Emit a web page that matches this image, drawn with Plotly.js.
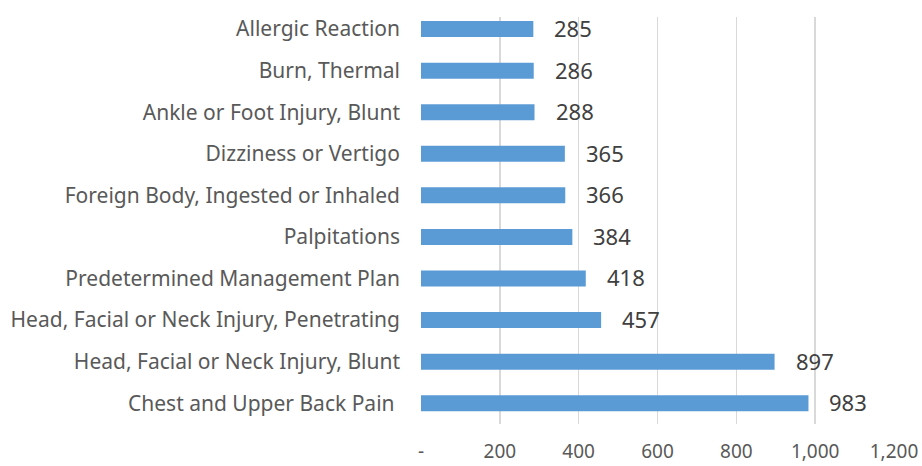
<!DOCTYPE html>
<html>
<head>
<meta charset="utf-8">
<script src="https://cdn.plot.ly/plotly-3.0.1.min.js"></script>
<style>html,body{margin:0;padding:0;background:#fff;}#chart{width:922px;height:466px;}</style>
</head>
<body>
<div id="chart"></div>
<script>
const categories = [
  "Chest and Upper Back Pain ",
  "Head, Facial or Neck Injury, Blunt",
  "Head, Facial or Neck Injury, Penetrating",
  "Predetermined Management Plan",
  "Palpitations",
  "Foreign Body, Ingested or Inhaled",
  "Dizziness or Vertigo",
  "Ankle or Foot Injury, Blunt",
  "Burn, Thermal",
  "Allergic Reaction"
];
const values = [983, 897, 457, 418, 384, 366, 365, 288, 286, 285];
const xTickVals = [0, 200, 400, 600, 800, 1000, 1200];
const xTickText = ["-", "200", "400", "600", "800", "1,000", "1,200"];

const font = "Noto Sans, Open Sans, sans-serif";

const trace = {
  type: "bar",
  orientation: "h",
  y: categories,
  x: values,
  marker: {color: "#5B9BD5"},
  hoverinfo: "x+y"
};

const annotations = values.map((v, i) => ({
  x: v, y: categories[i], xref: "x", yref: "y",
  text: String(v), showarrow: false, xanchor: "left", yanchor: "middle",
  xshift: 19, yshift: 1,
  font: {family: font, size: 22, color: "#404040"}
}));

const layout = {
  width: 922, height: 466,
  margin: {l: 421, r: 28, t: 17, b: 42},
  paper_bgcolor: "#fff", plot_bgcolor: "#fff",
  bargap: 0.615,
  showlegend: false,
  font: {family: font, size: 21, color: "#595959"},
  xaxis: {
    range: [0, 1200], tickvals: xTickVals, ticktext: xTickText,
    showgrid: true, gridcolor: "#d9d9d9", gridwidth: 1.5,
    zeroline: false, showline: false, ticks: "",
    ticklabelstandoff: 14,
    tickfont: {family: font, size: 19, color: "#595959"}
  },
  yaxis: {
    type: "category", categoryorder: "array", categoryarray: categories,
    range: [-0.5, 9.29],
    showgrid: false, zeroline: false, showline: false, ticks: "",
    ticklabelstandoff: 20,
    tickfont: {family: font, size: 21, color: "#595959"}
  },
  annotations: annotations
};

Plotly.newPlot("chart", [trace], layout, {displayModeBar: false, staticPlot: true});
</script>
</body>
</html>
